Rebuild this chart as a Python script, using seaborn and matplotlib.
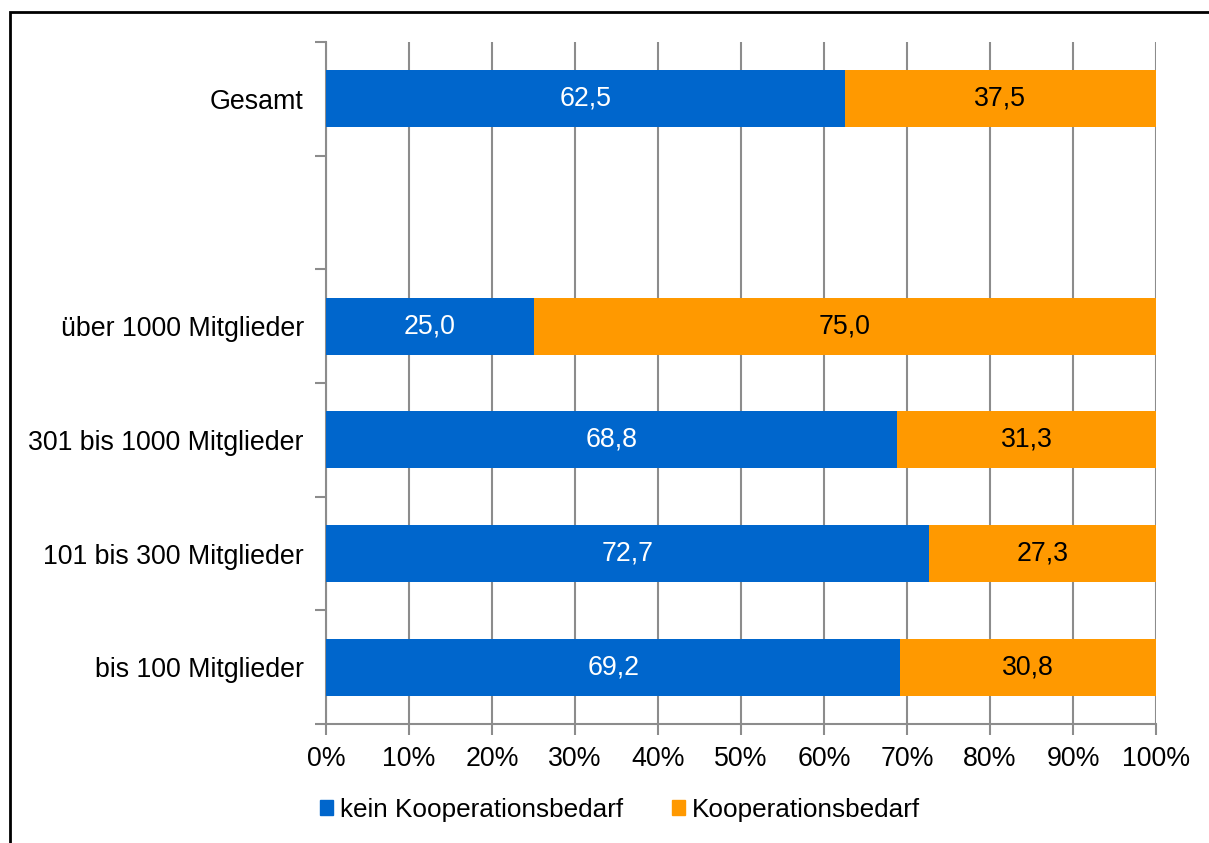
import pandas as pd
import matplotlib.pyplot as plt
import seaborn as sns
from matplotlib.patches import Patch, Rectangle
from matplotlib.ticker import FixedLocator, PercentFormatter

# Data
categories = ["Gesamt", " ", "über 1000 Mitglieder", "301 bis 1000 Mitglieder",
              "101 bis 300 Mitglieder", "bis 100 Mitglieder"]
kein_bedarf = [62.5, None, 25.0, 68.8, 72.7, 69.2]
bedarf = [37.5, None, 75.0, 31.3, 27.3, 30.8]

blue = "#0066CC"
orange = "#FF9900"
grey = "#8C8C8C"

df = pd.DataFrame({"Kategorie": categories, "kein": kein_bedarf, "bedarf": bedarf})
df["gesamt"] = df["kein"] + df["bedarf"]

sns.set_theme(style="white")
plt.rcParams["font.family"] = ["Liberation Sans", "DejaVu Sans"]
plt.rcParams["text.color"] = "black"
fs = 19.3

fig = plt.figure(figsize=(12.09, 8.43), dpi=100)
ax = fig.add_axes([326 / 1209, 1 - 724 / 843, (1156 - 326) / 1209, (724 - 42) / 843])

# stacked: full length in orange, blue segment on top
sns.barplot(data=df, y="Kategorie", x="gesamt", order=categories, color=orange,
            width=0.5, orient="h", ax=ax, saturation=1, linewidth=0, zorder=3)
sns.barplot(data=df, y="Kategorie", x="kein", order=categories, color=blue,
            width=0.5, orient="h", ax=ax, saturation=1, linewidth=0, zorder=3)

for i, (k, b) in enumerate(zip(kein_bedarf, bedarf)):
    if k is None:
        continue
    ax.text(k / 2, i, f"{k:.1f}".replace(".", ","), ha="center", va="center",
            color="white", fontsize=fs, zorder=4)
    ax.text(k + b / 2, i, f"{b:.1f}".replace(".", ","), ha="center", va="center",
            color="black", fontsize=fs, zorder=4)

ax.set_xlim(0, 100)
ax.set_ylim(len(categories) - 0.5, -0.5)
ax.xaxis.set_major_locator(FixedLocator(range(0, 101, 10)))
ax.xaxis.set_major_formatter(PercentFormatter(decimals=0))
ax.grid(axis="x", color=grey, linewidth=1.5, zorder=0)
ax.grid(axis="y", visible=False)
ax.set_xlabel("")
ax.set_ylabel("")

ax.yaxis.set_minor_locator(FixedLocator([i - 0.5 for i in range(len(categories) + 1)]))
ax.tick_params(axis="y", which="major", length=0, pad=16, labelsize=fs, labelcolor="black")
ax.tick_params(axis="y", which="minor", length=8, width=1.5, color=grey, left=True)
ax.tick_params(axis="x", which="major", length=8, width=1.5, color=grey, bottom=True,
               pad=8, labelsize=fs, labelcolor="black")

for side in ["top", "right"]:
    ax.spines[side].set_visible(False)
for side in ["left", "bottom"]:
    ax.spines[side].set_color(grey)
    ax.spines[side].set_linewidth(1.5)

handles = [Patch(color=blue, label="kein Kooperationsbedarf"),
           Patch(color=orange, label="Kooperationsbedarf")]
fig.legend(handles=handles, loc="center", bbox_to_anchor=(620 / 1209, 1 - 810 / 843),
           ncol=2, frameon=False, fontsize=18.8, handlelength=0.5, handleheight=0.5,
           handletextpad=0.25, columnspacing=1.9, labelcolor="black")

# outer frame (cut at right and bottom edges as in the reference)
fig.patches.append(Rectangle((10 / 1209, -0.1), 1.2, 1 - 12 / 843 + 0.1,
                             transform=fig.transFigure, fill=False,
                             edgecolor="black", linewidth=2))

fig.savefig("out.png", dpi=100)
